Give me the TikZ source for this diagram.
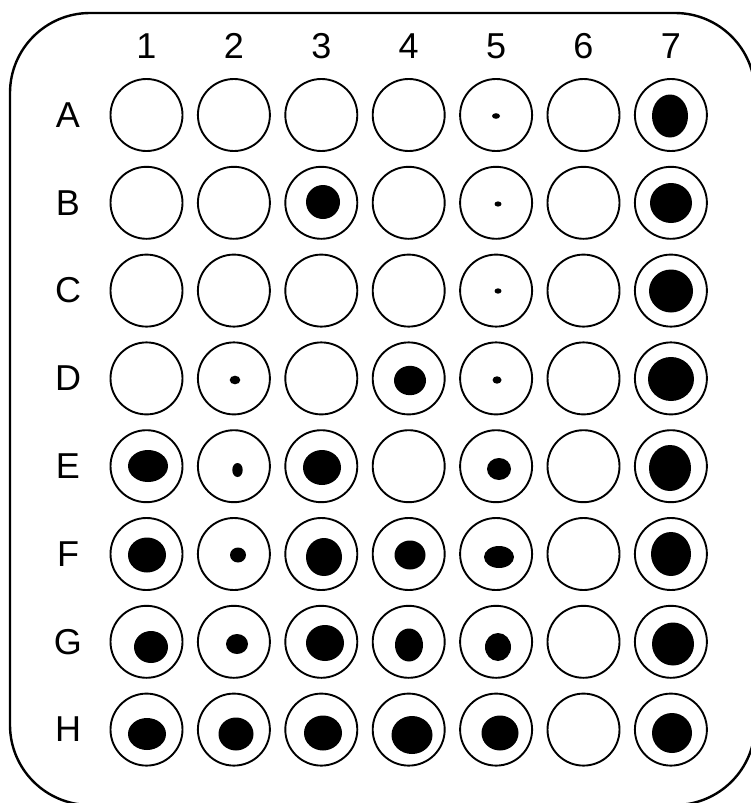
\documentclass[tikz,border=0pt]{standalone}
\usepackage{fontspec}
\setmainfont{Liberation Sans}
\begin{document}
\begin{tikzpicture}[x=1pt,y=-1pt,
  well/.style={circle,draw,line width=1.9pt,minimum size=72pt,inner sep=0pt},
  lbl/.style={font=\fontsize{36}{40}\selectfont,inner sep=0pt},
  plate/.style={line width=2.4pt,rounded corners=80pt}]
\useasboundingbox (0,0) rectangle (750,803);
\draw[plate] (10,13) rectangle (755,805);
\foreach \c in {1,...,7} {
  \node[lbl] (col\c) at ({146.5+87.4*(\c-1)},46) {\c};
}
\foreach \r [count=\j] in {A,B,C,D,E,F,G,H} {
  \node[lbl] (row\r) at (68,{115+87.8*(\j-1)}) {\r};
  \foreach \c in {1,...,7}
    \node[well] (w\r\c) at ({146.5+87.4*(\c-1)},{115+87.8*(\j-1)}) {};
}
\foreach \px/\py/\a/\b in {
  496/116/4/2.8, 670/116/18/21.5,
  323/202/17/17, 498/204/3.5/2.6, 671/203/21/20,
  498/291/3.5/2.7, 671/291/22/21.5,
  235/380/5.3/4.3, 410/380.5/16/14.7, 497/380/4.5/3.7, 671/379/23/22,
  148/466/20/16, 237.5/470/5.2/7, 322/467.5/19/17.5, 499/469/12/11, 670/468/21/23,
  147/555/19/17.5, 238/555/8/7.5, 324/557/18/19, 410/555/15.5/14.5, 499/557/15/11, 671/554/20/22,
  151/647/17/16, 237/644/11/10, 325/643/19/18, 409/645/14/16.5, 498/647/13/14, 673/644/21/21.5,
  147/734/19/16, 236/734/17.5/16.5, 323/733/19/17.5, 412/735/20.5/19, 500/733/18.5/17.5, 672/733/20/20}
  \fill (\px,\py) ellipse [x radius=\a pt, y radius=\b pt];
\end{tikzpicture}
\end{document}
